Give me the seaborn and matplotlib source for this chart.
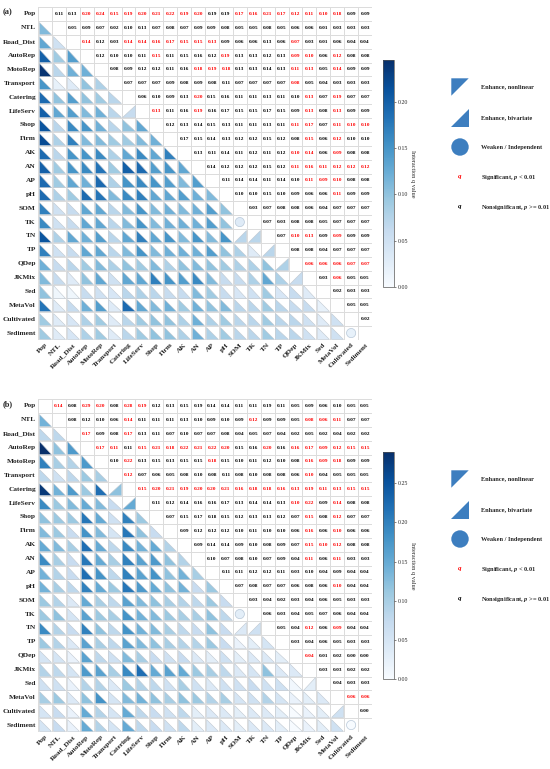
import numpy as np
import matplotlib
matplotlib.use("Agg")
import matplotlib.pyplot as plt
import seaborn as sns
from matplotlib.colors import ListedColormap, Normalize
from matplotlib.patches import Polygon, Circle
import matplotlib.cm as cm

factors = ["Pop", "NTL", "Road_Dist", "AutoRep", "MotoRep", "Transport", "Catering",
           "LifeServ", "Shop", "Firm", "AK", "AN", "AP", "pH", "SOM", "TK", "TN", "TP",
           "QDep", "JKMix", "Sed", "MetaVol", "Cultivated", "Sediment"]

# panel (a): upper triangle, row i holds the q values for columns i+1 .. end
q_a = [
    [0.11, 0.13, 0.20, 0.24, 0.15, 0.19, 0.20, 0.21, 0.22, 0.19, 0.20, 0.19, 0.19, 0.17, 0.16, 0.21, 0.17, 0.12, 0.11, 0.10, 0.18, 0.09, 0.09],
    [0.05, 0.09, 0.07, 0.02, 0.10, 0.13, 0.07, 0.08, 0.07, 0.09, 0.09, 0.08, 0.05, 0.05, 0.08, 0.05, 0.06, 0.06, 0.01, 0.03, 0.03, 0.03],
    [0.14, 0.12, 0.03, 0.14, 0.14, 0.16, 0.17, 0.15, 0.15, 0.13, 0.09, 0.06, 0.06, 0.13, 0.06, 0.07, 0.03, 0.01, 0.06, 0.04, 0.04],
    [0.12, 0.10, 0.10, 0.11, 0.15, 0.11, 0.15, 0.16, 0.12, 0.19, 0.13, 0.13, 0.12, 0.13, 0.09, 0.10, 0.06, 0.12, 0.08, 0.08],
    [0.08, 0.09, 0.12, 0.12, 0.11, 0.16, 0.18, 0.19, 0.18, 0.13, 0.13, 0.14, 0.13, 0.11, 0.13, 0.05, 0.14, 0.09, 0.09],
    [0.07, 0.07, 0.07, 0.09, 0.08, 0.09, 0.08, 0.11, 0.07, 0.07, 0.07, 0.07, 0.08, 0.05, 0.04, 0.03, 0.03, 0.03],
    [0.06, 0.10, 0.09, 0.13, 0.20, 0.15, 0.16, 0.11, 0.11, 0.13, 0.11, 0.10, 0.13, 0.07, 0.19, 0.07, 0.07],
    [0.13, 0.11, 0.16, 0.19, 0.16, 0.17, 0.15, 0.15, 0.17, 0.15, 0.09, 0.13, 0.08, 0.13, 0.09, 0.09],
    [0.12, 0.13, 0.14, 0.15, 0.13, 0.11, 0.11, 0.13, 0.11, 0.11, 0.17, 0.07, 0.11, 0.10, 0.10],
    [0.17, 0.15, 0.14, 0.13, 0.12, 0.12, 0.15, 0.12, 0.08, 0.15, 0.06, 0.12, 0.10, 0.10],
    [0.13, 0.11, 0.14, 0.11, 0.12, 0.11, 0.12, 0.10, 0.14, 0.06, 0.09, 0.08, 0.08],
    [0.14, 0.12, 0.12, 0.12, 0.15, 0.12, 0.11, 0.16, 0.11, 0.12, 0.12, 0.12],
    [0.11, 0.14, 0.14, 0.11, 0.14, 0.10, 0.11, 0.09, 0.10, 0.08, 0.08],
    [0.10, 0.10, 0.15, 0.10, 0.09, 0.06, 0.06, 0.11, 0.09, 0.09],
    [0.03, 0.07, 0.08, 0.08, 0.06, 0.04, 0.07, 0.07, 0.07],
    [0.07, 0.03, 0.08, 0.08, 0.05, 0.07, 0.07, 0.07],
    [0.07, 0.10, 0.13, 0.09, 0.09, 0.09, 0.09],
    [0.08, 0.08, 0.04, 0.07, 0.07, 0.07],
    [0.06, 0.06, 0.06, 0.07, 0.07],
    [0.03, 0.06, 0.05, 0.05],
    [0.02, 0.03, 0.03],
    [0.05, 0.05],
    [0.02],
]
# 1 = significant (p < 0.01), same layout as q_a
sig_a = [
    [0, 0, 1, 1, 1, 1, 1, 1, 1, 1, 1, 0, 0, 1, 1, 1, 1, 1, 1, 1, 1, 0, 0],
    [0, 0, 0, 0, 0, 0, 0, 0, 0, 0, 0, 0, 0, 0, 0, 0, 0, 0, 0, 0, 0, 0],
    [1, 0, 0, 1, 1, 1, 1, 1, 1, 1, 0, 0, 0, 0, 0, 1, 0, 0, 0, 0, 0],
    [0, 0, 0, 0, 1, 0, 0, 0, 0, 1, 0, 0, 0, 0, 1, 1, 0, 1, 0, 0],
    [0, 0, 0, 0, 0, 0, 1, 1, 1, 0, 0, 0, 0, 1, 1, 0, 1, 0, 0],
    [0, 0, 0, 0, 0, 0, 0, 0, 0, 0, 0, 0, 1, 0, 0, 0, 0, 0],
    [0, 0, 0, 0, 1, 0, 0, 0, 0, 0, 0, 0, 1, 0, 1, 0, 0],
    [1, 0, 0, 1, 0, 0, 0, 0, 0, 0, 0, 1, 0, 1, 0, 0],
    [0, 0, 0, 0, 0, 0, 0, 0, 0, 1, 1, 0, 1, 1, 1],
    [0, 0, 0, 0, 0, 0, 0, 0, 0, 1, 0, 1, 0, 0],
    [0, 0, 0, 0, 0, 0, 0, 1, 1, 0, 1, 0, 0],
    [0, 0, 0, 0, 0, 0, 1, 1, 1, 1, 1, 1],
    [0, 0, 0, 0, 0, 0, 1, 1, 1, 0, 0],
    [0, 0, 0, 0, 0, 0, 0, 1, 0, 0],
    [0, 0, 0, 0, 0, 0, 0, 0, 0],
    [0, 0, 0, 0, 0, 0, 0, 0],
    [0, 1, 1, 0, 1, 0, 0],
    [0, 0, 0, 0, 0, 0],
    [1, 1, 1, 1, 1],
    [0, 1, 0, 0],
    [0, 0, 0],
    [0, 0],
    [0],
]
biv_a = [("LifeServ", "Catering"), ("TN", "SOM"), ("TN", "TK"), ("TP", "TN"),
         ("QDep", "TP"), ("JKMix", "QDep")]
weak_a = [("TK", "SOM"), ("Sediment", "Cultivated")]

# panel (b)
q_b = [
    [0.14, 0.08, 0.29, 0.20, 0.08, 0.28, 0.19, 0.12, 0.13, 0.15, 0.19, 0.14, 0.14, 0.11, 0.11, 0.19, 0.11, 0.05, 0.09, 0.06, 0.10, 0.05, 0.05],
    [0.08, 0.12, 0.10, 0.06, 0.14, 0.11, 0.11, 0.11, 0.13, 0.10, 0.09, 0.10, 0.09, 0.12, 0.09, 0.09, 0.05, 0.08, 0.06, 0.11, 0.07, 0.07],
    [0.17, 0.09, 0.08, 0.17, 0.13, 0.11, 0.07, 0.10, 0.07, 0.07, 0.08, 0.04, 0.05, 0.07, 0.04, 0.02, 0.05, 0.02, 0.04, 0.02, 0.02],
    [0.17, 0.11, 0.11, 0.15, 0.21, 0.18, 0.22, 0.21, 0.22, 0.20, 0.15, 0.16, 0.20, 0.16, 0.16, 0.17, 0.09, 0.12, 0.15, 0.15],
    [0.10, 0.22, 0.13, 0.15, 0.13, 0.15, 0.15, 0.18, 0.15, 0.10, 0.11, 0.12, 0.10, 0.08, 0.16, 0.09, 0.18, 0.09, 0.09],
    [0.12, 0.07, 0.06, 0.05, 0.08, 0.10, 0.08, 0.11, 0.08, 0.10, 0.08, 0.08, 0.06, 0.10, 0.04, 0.05, 0.05, 0.05],
    [0.15, 0.20, 0.21, 0.19, 0.20, 0.20, 0.21, 0.16, 0.18, 0.18, 0.16, 0.13, 0.19, 0.11, 0.13, 0.15, 0.15],
    [0.11, 0.12, 0.14, 0.16, 0.16, 0.17, 0.13, 0.14, 0.14, 0.13, 0.10, 0.22, 0.09, 0.14, 0.08, 0.08],
    [0.07, 0.15, 0.17, 0.18, 0.15, 0.12, 0.13, 0.13, 0.12, 0.07, 0.15, 0.08, 0.12, 0.07, 0.07],
    [0.09, 0.12, 0.12, 0.12, 0.10, 0.11, 0.10, 0.10, 0.06, 0.16, 0.06, 0.10, 0.06, 0.06],
    [0.09, 0.14, 0.14, 0.09, 0.10, 0.08, 0.09, 0.07, 0.15, 0.10, 0.12, 0.08, 0.08],
    [0.10, 0.07, 0.08, 0.10, 0.07, 0.09, 0.04, 0.11, 0.06, 0.11, 0.03, 0.03],
    [0.11, 0.11, 0.12, 0.12, 0.11, 0.03, 0.10, 0.04, 0.09, 0.04, 0.04],
    [0.07, 0.08, 0.07, 0.07, 0.06, 0.08, 0.06, 0.10, 0.04, 0.04],
    [0.03, 0.04, 0.02, 0.03, 0.04, 0.06, 0.05, 0.03, 0.03],
    [0.06, 0.03, 0.04, 0.05, 0.07, 0.06, 0.04, 0.04],
    [0.05, 0.04, 0.12, 0.06, 0.09, 0.04, 0.04],
    [0.03, 0.04, 0.06, 0.05, 0.03, 0.03],
    [0.04, 0.01, 0.02, 0.00, 0.00],
    [0.03, 0.03, 0.02, 0.02],
    [0.04, 0.03, 0.03],
    [0.06, 0.06],
    [0.00],
]
sig_b = [
    [1, 0, 1, 1, 0, 1, 1, 0, 0, 0, 0, 0, 0, 0, 0, 0, 0, 0, 0, 0, 0, 0, 0],
    [0, 0, 0, 0, 1, 0, 0, 0, 0, 0, 0, 0, 0, 1, 0, 0, 0, 1, 1, 1, 0, 0],
    [1, 0, 0, 1, 0, 0, 0, 0, 0, 0, 0, 0, 0, 0, 0, 0, 0, 0, 0, 0, 0],
    [1, 1, 0, 1, 1, 1, 1, 1, 1, 1, 0, 0, 1, 0, 1, 1, 1, 1, 1, 1],
    [0, 1, 0, 0, 0, 0, 0, 1, 0, 0, 0, 0, 0, 0, 1, 1, 1, 0, 0],
    [1, 0, 0, 0, 0, 0, 0, 0, 0, 0, 0, 0, 0, 1, 0, 0, 0, 0],
    [1, 1, 1, 1, 1, 1, 1, 1, 1, 1, 1, 1, 1, 1, 1, 1, 1],
    [0, 0, 0, 0, 0, 0, 0, 0, 0, 0, 1, 1, 0, 1, 0, 0],
    [0, 0, 0, 0, 0, 0, 0, 0, 0, 0, 1, 0, 1, 0, 0],
    [0, 0, 0, 0, 0, 0, 0, 0, 0, 1, 0, 1, 0, 0],
    [0, 0, 0, 0, 0, 0, 0, 0, 1, 1, 1, 0, 0],
    [0, 0, 0, 0, 0, 0, 0, 1, 0, 1, 0, 0],
    [0, 0, 0, 0, 0, 0, 0, 0, 0, 0, 0],
    [0, 0, 0, 0, 0, 0, 0, 1, 0, 0],
    [0, 0, 0, 0, 0, 0, 0, 0, 0],
    [0, 0, 0, 0, 0, 0, 0, 0],
    [0, 0, 1, 0, 1, 0, 0],
    [0, 0, 0, 0, 0, 0],
    [1, 0, 0, 0, 0],
    [0, 0, 0, 0],
    [0, 0, 0],
    [1, 1],
    [0],
]
biv_b = [("Catering", "Transport"), ("LifeServ", "Catering"), ("TN", "SOM"), ("TN", "TK"),
         ("Sed", "JKMix"), ("Cultivated", "MetaVol")]
weak_b = [("TK", "SOM"), ("Sediment", "Cultivated")]

legend_labels = ["Enhance, nonlinear", "Enhance, bivariate", "Weaken / Independent",
                 "Significant, $\\it{p}$ < 0.01", "Nonsignificant, $\\it{p}$ >= 0.01"]

W, H = 550, 769
sns.set_style("white")
plt.rcParams["font.family"] = ["Liberation Serif", "DejaVu Serif"]
plt.rcParams["mathtext.fontset"] = "custom"
plt.rcParams["mathtext.rm"] = "Liberation Serif:bold"
plt.rcParams["mathtext.it"] = "Liberation Serif:italic:bold"

cmap = plt.get_cmap("Blues")
leg_blue = "#3d7ebf"


def px(x0, y0, x1, y1):
    return [x0 / W, 1 - y1 / H, (x1 - x0) / W, (y1 - y0) / H]


def full_matrix(rows):
    n = len(factors)
    m = np.full((n, n), np.nan)
    for i, row in enumerate(rows):
        for k, v in enumerate(row):
            m[i, i + 1 + k] = v
            m[i + 1 + k, i] = v
    return m


def draw_panel(fig, top, q_rows, sig_rows, biv, weak, vmax, tag):
    n = len(factors)
    ax = fig.add_axes(px(38, top, 372, top + 333))
    sns.heatmap(np.zeros((n, n)), ax=ax, cmap=ListedColormap(["white"]), cbar=False,
                linewidths=0.5, linecolor="#dcdcdc", xticklabels=factors, yticklabels=factors)
    ax.tick_params(length=0, pad=1.5)
    plt.setp(ax.get_yticklabels(), fontsize=5.3, fontweight="bold", rotation=0)
    plt.setp(ax.get_xticklabels(), fontsize=5.3, fontweight="bold", rotation=45,
             ha="right", rotation_mode="anchor")

    norm = Normalize(0, vmax)
    m = full_matrix(q_rows)
    for i, row in enumerate(q_rows):
        for k, v in enumerate(row):
            color = "red" if sig_rows[i][k] else "black"
            ax.text(i + 1 + k + 0.5, i + 0.5, f"{v:.2f}", ha="center", va="center",
                    fontsize=3.8, fontweight="bold", color=color)

    biv_set = {(factors.index(r), factors.index(c)) for r, c in biv}
    weak_set = {(factors.index(r), factors.index(c)) for r, c in weak}
    d = 0.06
    for i in range(n):
        for j in range(i):
            fc = cmap(norm(m[i, j]))
            if (i, j) in weak_set:
                ax.add_patch(Circle((j + 0.5, i + 0.5), 0.33, fc=fc, ec="#b8c8d8", lw=0.5))
            elif (i, j) in biv_set:
                pts = [(j + 1 - d, i + d), (j + 1 - d, i + 1 - d), (j + d, i + 1 - d)]
                ax.add_patch(Polygon(pts, closed=True, fc=fc, ec="#c0c8d0", lw=0.4))
            else:
                pts = [(j + d, i + d), (j + d, i + 1 - d), (j + 1 - d, i + 1 - d)]
                ax.add_patch(Polygon(pts, closed=True, fc=fc, ec="#c0c8d0", lw=0.4))

    # colorbar
    cax = fig.add_axes(px(383, top + 53, 394, top + 280))
    cb = fig.colorbar(cm.ScalarMappable(norm=norm, cmap=cmap), cax=cax)
    cb.set_ticks(np.arange(0, vmax, 0.05))
    cb.ax.tick_params(labelsize=4.2, length=1.5, width=0.4, pad=1)
    cb.outline.set_linewidth(0.5)
    cb.outline.set_edgecolor("#555555")
    cb.set_label("Interaction q value", fontsize=4.5, rotation=270, labelpad=5)

    # legend
    lax = fig.add_axes(px(420, top + 63, 550, top + 213))
    lax.set_xlim(0, 130)
    lax.set_ylim(150, 0)
    lax.axis("off")
    s = 8.7
    cx = 40
    ys = [17, 48, 77, 107, 137]
    lax.add_patch(Polygon([(cx - s, ys[0] - s), (cx + s, ys[0] - s), (cx - s, ys[0] + s)],
                          closed=True, fc=leg_blue, ec="none"))
    lax.add_patch(Polygon([(cx - s, ys[1] + s), (cx + s, ys[1] + s), (cx + s, ys[1] - s)],
                          closed=True, fc=leg_blue, ec="none"))
    lax.add_patch(Circle((cx, ys[2]), s, fc=leg_blue, ec="none"))
    lax.text(cx, ys[3], "$\\it{q}$", color="red", fontsize=5, ha="center", va="center")
    lax.text(cx, ys[4], "$\\it{q}$", color="black", fontsize=5, ha="center", va="center")
    for y, lab in zip(ys, legend_labels):
        lax.text(61, y, lab, fontsize=4.6, fontweight="bold", ha="left", va="center")

    fig.text(3 / W, 1 - (top + 5) / H, tag, fontsize=6, fontweight="bold", ha="left", va="center")


fig = plt.figure(figsize=(W / 100, H / 100), dpi=100)
draw_panel(fig, 7, q_a, sig_a, biv_a, weak_a, 0.245, "(a)")
draw_panel(fig, 399, q_b, sig_b, biv_b, weak_b, 0.29, "(b)")
fig.savefig("out.png", dpi=100)
